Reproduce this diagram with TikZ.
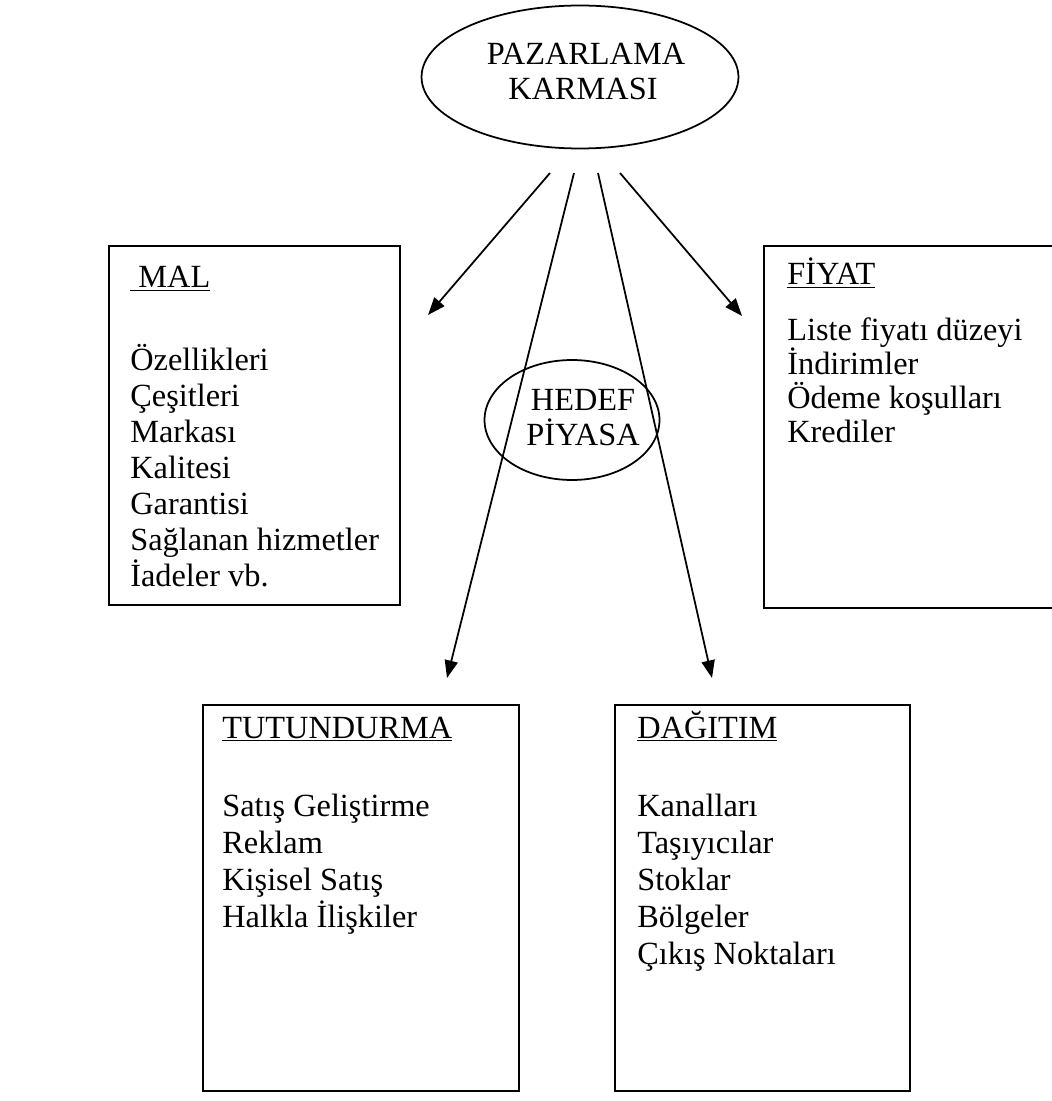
\documentclass[tikz,border=0pt]{standalone}
\usepackage{fontspec}
\setmainfont{Liberation Serif}
\usetikzlibrary{shapes.geometric,arrows.meta}
\begin{document}
\begin{tikzpicture}[x=0.02cm,y=-0.02cm,
  every node/.style={font=\fontsize{18.4}{18.6}\selectfont},
  oval/.style={draw,ellipse,line width=1pt,inner sep=0pt,align=center},
  panel/.style={draw,line width=1pt,inner sep=0pt,anchor=north west},
  txt/.style={anchor=base west,inner sep=0pt},
  ctxt/.style={anchor=base,inner sep=0pt},
  conn/.style={line width=1pt,-{Triangle[length=10pt,width=7.5pt]}}]
\useasboundingbox (0,0) rectangle (1051,1101);
% ellipses
\node[oval,minimum width=6.34cm,minimum height=2.86cm] (pk) at (580,77) {};
\node[ctxt] (pk1) at (586,65) {PAZARLAMA};
\node[ctxt] (pk2) at (583,100) {KARMASI};
\node[oval,minimum width=3.5cm,minimum height=2.4cm] (hp) at (572,420) {};
\node[ctxt] (hp1) at (583,410) {HEDEF};
\node[ctxt] (hp2) at (583,445) {PİYASA};
% boxes
\node[panel,minimum width=5.82cm,minimum height=7.18cm] (mal) at (108,245) {};
\node[panel,minimum width=6.0cm,minimum height=7.24cm] (fiyat) at (763,245) {};
\node[panel,minimum width=6.32cm,minimum height=7.72cm] (tut) at (202,704) {};
\node[panel,minimum width=5.9cm,minimum height=7.72cm] (dag) at (614,704) {};
% headings
\node[txt] (malh) at (130,288) {\underline{\ MAL}};
\node[txt] (fiyath) at (787,285) {\underline{FİYAT}};
\node[txt] (tuth) at (222,738) {\underline{TUTUNDURMA}};
\node[txt] (dagh) at (637,738) {\underline{DAĞITIM}};
% items
\foreach \t [count=\i] in {Özellikleri,Çeşitleri,Markası,Kalitesi,Garantisi,Sağlanan hizmetler,İadeler vb.}
  \node[txt] (mal\i) at (130,{370+36*(\i-1)}) {\t};
\foreach \t [count=\i] in {Liste fiyatı düzeyi,İndirimler,Ödeme koşulları,Krediler}
  \node[txt] (fiyat\i) at (787,{340+34*(\i-1)}) {\t};
\foreach \t [count=\i] in {Satış Geliştirme,Reklam,Kişisel Satış,Halkla İlişkiler}
  \node[txt] (tut\i) at (222,{816+37*(\i-1)}) {\t};
\foreach \t [count=\i] in {Kanalları,Taşıyıcılar,Stoklar,Bölgeler,Çıkış Noktaları}
  \node[txt] (dag\i) at (637,{816+37*(\i-1)}) {\t};
% connectors
\coordinate (s1) at (550,173); \coordinate (t1) at (428,315);
\coordinate (s2) at (574,173); \coordinate (t2) at (447,678);
\coordinate (s3) at (598,173); \coordinate (t3) at (712,678);
\coordinate (s4) at (620,173); \coordinate (t4) at (742,316);
\draw[conn] (s1) -- (t1);
\draw[conn] (s2) -- (t2);
\draw[conn] (s3) -- (t3);
\draw[conn] (s4) -- (t4);
\end{tikzpicture}
\end{document}
